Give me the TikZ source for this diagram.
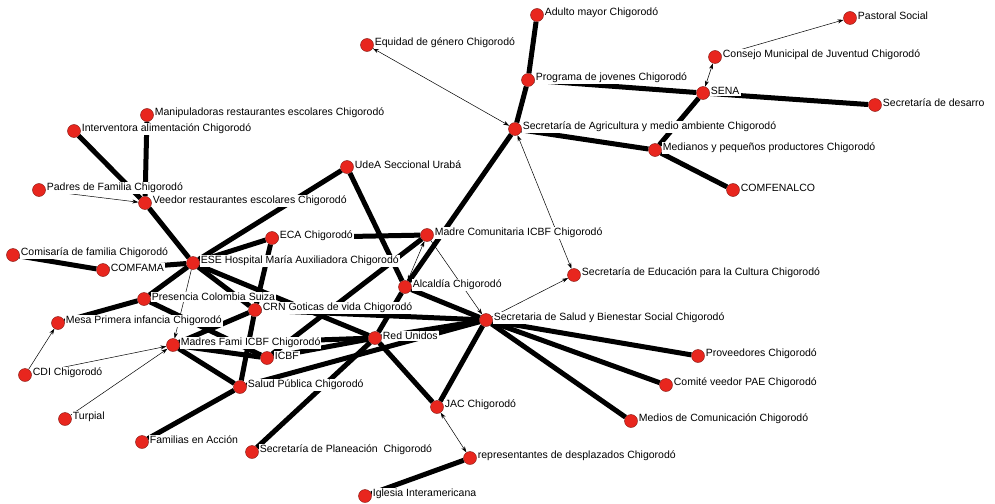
\documentclass[tikz,border=0pt]{standalone}
\usepackage{fontspec}
\setmainfont{Liberation Sans}
\usetikzlibrary{arrows.meta}
\pgfdeclarelayer{ties}
\pgfsetlayers{ties,main}
\definecolor{actorred}{RGB}{232,38,30}
\begin{document}
\begin{tikzpicture}[x=1pt, y=-1pt, >={Stealth[length=6pt,width=4pt]},
    actor/.style={circle, fill=actorred, draw=actorred!55!black, line width=0.4pt, minimum size=13pt, inner sep=0pt},
    lbl/.style={fill=white, inner sep=1pt, yshift=2pt, font=\fontsize{10.5}{12}\selectfont},
    tie/.style={line width=5pt},
    link/.style={line width=0.5pt}]
        \useasboundingbox (0,0) rectangle (995,503);
        \node[actor, label={[lbl]right:Adulto mayor Chigorodó}] (adulto) at (537,15) {};
        \node[actor, label={[lbl]right:Equidad de género Chigorodó}] (equidad) at (367,45) {};
        \node[actor, label={[lbl]right:Programa de jovenes Chigorodó}] (programa) at (528,80) {};
        \node[actor, label={[lbl]right:Pastoral Social}] (pastoral) at (850,18) {};
        \node[actor, label={[lbl]right:Consejo Municipal de Juventud Chigorodó}] (consejo) at (715,57) {};
        \node[actor, label={[lbl]right:SENA}] (sena) at (703,93) {};
        \node[actor, label={[lbl]right:Secretaría de desarro}] (desarro) at (875,105) {};
        \node[actor, label={[lbl]right:Secretaría de Agricultura y medio ambiente Chigorodó}] (agric) at (515,129) {};
        \node[actor, label={[lbl]right:Medianos y pequeños productores Chigorodó}] (medianos) at (655,150) {};
        \node[actor, label={[lbl]right:COMFENALCO}] (comfenalco) at (733,190) {};
        \node[actor, label={[lbl]right:Manipuladoras restaurantes escolares Chigorodó}] (manip) at (147,115) {};
        \node[actor, label={[lbl]right:Interventora alimentación Chigorodó}] (interv) at (74,131) {};
        \node[actor, label={[lbl]right:Padres de Familia Chigorodó}] (padres) at (39,190) {};
        \node[actor, label={[lbl]right:Veedor restaurantes escolares Chigorodó}] (veedor) at (145,203) {};
        \node[actor, label={[lbl]right:UdeA Seccional Urabá}] (udea) at (347,167) {};
        \node[actor, label={[lbl]right:ECA Chigorodó}] (eca) at (272,238) {};
        \node[actor, label={[lbl]right:Madre Comunitaria ICBF Chigorodó}] (madrecom) at (427,235) {};
        \node[actor, label={[lbl]right:Comisaría de familia Chigorodó}] (comisaria) at (13,255) {};
        \node[actor, label={[lbl]right:COMFAMA}] (comfama) at (103,270) {};
        \node[actor, label={[lbl]right:ESE Hospital María Auxiliadora Chigorodó}] (ese) at (193,263) {};
        \node[actor, label={[lbl]right:Secretaría de Educación para la Cultura Chigorodó}] (educacion) at (574,275) {};
        \node[actor, label={[lbl]right:Alcaldía Chigorodó}] (alcaldia) at (405,287) {};
        \node[actor, label={[lbl]right:Presencia Colombia Suiza}] (presencia) at (144,299) {};
        \node[actor, label={[lbl]right:CRN Goticas de vida Chigorodó}] (crn) at (255,310) {};
        \node[actor, label={[lbl]right:Secretaria de Salud y Bienestar Social Chigorodó}] (secsalud) at (486,320) {};
        \node[actor, label={[lbl]right:Mesa Primera infancia Chigorodó}] (mesa) at (58,323) {};
        \node[actor, label={[lbl]right:Madres Fami ICBF Chigorodó}] (madresfami) at (173,345) {};
        \node[actor, label={[lbl]right:Red Unidos}] (redunidos) at (375,338) {};
        \node[actor, label={[lbl]right:ICBF}] (icbf) at (267,358) {};
        \node[actor, label={[lbl]right:Proveedores Chigorodó}] (proveedores) at (698,356) {};
        \node[actor, label={[lbl]right:CDI Chigorodó}] (cdi) at (25,375) {};
        \node[actor, label={[lbl]right:Salud Pública Chigorodó}] (saludpub) at (240,387) {};
        \node[actor, label={[lbl]right:Comité veedor PAE Chigorodó}] (comite) at (666,385) {};
        \node[actor, label={[lbl]right:JAC Chigorodó}] (jac) at (437,407) {};
        \node[actor, label={[lbl]right:Turpial}] (turpial) at (65,419) {};
        \node[actor, label={[lbl]right:Medios de Comunicación Chigorodó}] (medios) at (631,421) {};
        \node[actor, label={[lbl]right:Familias en Acción}] (familias) at (142,442) {};
        \node[actor, label={[lbl]right:Secretaría de Planeación\ \ Chigorodó}] (planeacion) at (252,452) {};
        \node[actor, label={[lbl]right:representantes de desplazados Chigorodó}] (desplazados) at (470,458) {};
        \node[actor, label={[lbl]right:Iglesia Interamericana}] (iglesia) at (365,496) {};
        \begin{pgfonlayer}{ties}
        \draw[tie] (adulto) -- (programa);
        \draw[tie] (programa) -- (agric);
        \draw[tie] (programa) -- (sena);
        \draw[tie] (sena) -- (desarro);
        \draw[tie] (sena) -- (medianos);
        \draw[tie] (agric) -- (medianos);
        \draw[tie] (medianos) -- (comfenalco);
        \draw[tie] (agric) -- (alcaldia);
        \draw[tie] (interv) -- (veedor);
        \draw[tie] (manip) -- (veedor);
        \draw[tie] (veedor) -- (ese);
        \draw[tie] (ese) -- (udea);
        \draw[tie] (udea) -- (alcaldia);
        \draw[tie] (ese) -- (eca);
        \draw[tie] (eca) -- (crn);
        \draw[tie] (crn) -- (saludpub);
        \draw[tie] (ese) -- (comfama);
        \draw[tie] (comfama) -- (comisaria);
        \draw[tie] (ese) -- (presencia);
        \draw[tie] (presencia) -- (mesa);
        \draw[tie] (presencia) -- (icbf);
        \draw[tie] (ese) -- (redunidos);
        \draw[tie] (ese) -- (crn);
        \draw[tie] (crn) -- (madresfami);
        \draw[tie] (madresfami) -- (icbf);
        \draw[tie] (madresfami) -- (saludpub);
        \draw[tie] (madresfami) -- (redunidos);
        \draw[tie] (crn) -- (secsalud);
        \draw[tie] (icbf) -- (redunidos);
        \draw[tie] (icbf) -- (madrecom);
        \draw[tie] (eca) -- (madrecom);
        \draw[tie] (saludpub) -- (secsalud);
        \draw[tie] (planeacion) -- (redunidos);
        \draw[tie] (familias) -- (saludpub);
        \draw[tie] (redunidos) -- (jac);
        \draw[tie] (jac) -- (secsalud);
        \draw[tie] (redunidos) -- (secsalud);
        \draw[tie] (alcaldia) -- (secsalud);
        \draw[tie] (alcaldia) -- (redunidos);
        \draw[tie] (secsalud) -- (proveedores);
        \draw[tie] (secsalud) -- (comite);
        \draw[tie] (secsalud) -- (medios);
        \draw[tie] (desplazados) -- (iglesia);
        \draw[link, ->] (padres) -- (veedor);
        \draw[link, <->] (equidad) -- (agric);
        \draw[link, <->] (consejo) -- (sena);
        \draw[link, ->] (consejo) -- (pastoral);
        \draw[link, <->] (agric) -- (educacion);
        \draw[link, ->] (madrecom) -- (secsalud);
        \draw[link, ->] (secsalud) -- (educacion);
        \draw[link, <->] (alcaldia) -- (madrecom);
        \draw[link, ->] (ese) -- (madresfami);
        \draw[link, ->] (cdi) -- (mesa);
        \draw[link, ->] (cdi) -- (madresfami);
        \draw[link, ->] (turpial) -- (madresfami);
        \draw[link, <->] (jac) -- (desplazados);
        \end{pgfonlayer}
\end{tikzpicture}
\end{document}
